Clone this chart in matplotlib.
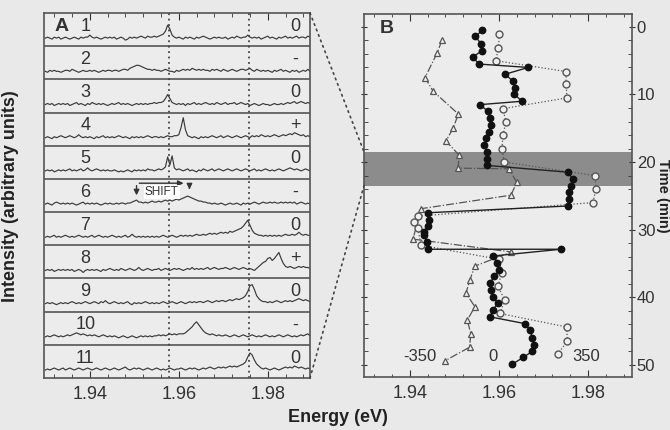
import numpy as np
import matplotlib.pyplot as plt
from matplotlib.patches import ConnectionPatch
from matplotlib.ticker import MultipleLocator

plt.rcParams['font.family'] = ['Liberation Sans', 'DejaVu Sans']

# ---- panel A: spectra, sampled every 0.5 meV from 1.930 eV (pixel heights above baseline)
e_start = 1.930
e_step = 0.0005

spec1 = [0, 1, 0, -1, 1, 0, 1, -1, 0, 1, 0, -1, 0, 1, 0, -1, 1, 0, 1, 1,
         3, 1, 0, 1, 0, -1, 0, 1, 0, 1, 0, 1, -1, 0, 1, 0, -2, -1, 1, 0,
         1, 0, 1, 2, 1, 0, 2, 1, 1, 2, 1, 2, 3, 4, 7, 13, 9, 3, 1, 0,
         1, 0, -1, 1, 0, 1, 0, -1, 1, 0, 1, 2, 1, 0, -1, 0, 1, 0, 1, 0,
         0, 1, -1, 0, 1, 0, 2, 1, 0, 1, 1, 3, 1, 0, 1, 0, 1, -1, 0, 1,
         2, 0, 1, 0, -1, 1, 0, 1, 2, 0, 1, 0, 1, 2, 0, 1, 1, 0, 2, 1]
spec2 = [0, -1, 1, 0, 1, 0, 0, -1, 0, 1, 1, 0, 2, 1, 0, -1, 0, 1, 0, 0,
         1, 0, 1, 0, -1, 0, 1, 0, 1, 1, 0, 1, 1, 0, 1, 2, 2, 1, 3, 4,
         5, 6, 6, 5, 4, 3, 2, 2, 1, 2, 1, 1, 0, 1, 2, 1, 0, 0, -1, 1,
         0, 1, 2, 1, 2, 1, 3, 2, 1, 2, 1, 2, 1, 1, 0, 2, 1, 2, 1, 0,
         2, 1, 0, 1, 2, 1, 0, 1, 2, 2, 1, 2, 3, 1, 0, 2, 1, 0, 1, 0,
         1, 0, -1, 1, 0, 1, 2, 0, 1, 0, -1, 1, 0, 1, -1, 0, 1, 0, 2, 0]
spec3 = [0, 1, 0, 1, -1, 0, 1, 0, 1, 0, 1, -1, 0, 1, 2, 0, 1, 0, -1, 1,
         0, 2, 1, 0, 1, 0, 1, 0, -1, 0, 1, 0, 1, 2, 0, 1, 0, 1, 0, -1,
         0, 1, 0, 1, 0, 1, 0, 1, 1, 2, 1, 2, 2, 3, 6, 10, 6, 2, 1, 0,
         1, 0, 1, -1, 1, 0, 1, 2, 0, 1, 0, 1, 2, 1, 0, 1, 0, 2, 1, 0,
         1, 2, 0, 1, 1, 2, 0, 1, 2, 1, 0, 1, -1, 0, 1, 0, -1, 0, 1, 0,
         0, -1, 0, 1, 0, 0, 1, 0, 1, 2, 1, 2, 3, 1, 2, 3, 2, 1, 2, 1]
spec4 = [0, 1, 0, -1, 1, 0, 1, 2, 1, 0, 1, 2, 1, 0, 1, 3, 1, 0, 1, 0,
         1, 0, -1, 1, 0, 1, 2, 0, 1, 0, 1, 0, 1, 2, 1, 0, 1, 0, -1, 1,
         0, 1, 0, 1, 0, 1, 2, 1, 0, 1, 1, 0, 1, 0, 1, 2, 1, 1, 2, 2,
         3, 10, 20, 8, 2, 1, 0, 1, 0, -1, 1, 0, 1, 0, 1, 2, 1, 0, 1, 2,
         0, 1, 2, 1, 0, 1, 2, 1, 0, 1, 2, 1, 0, 2, 1, 2, 1, 3, 2, 1,
         2, 1, 2, 3, 2, 1, 2, 3, 2, 3, 4, 3, 5, 4, 3, 2, 3, 1, 2, 1]
spec5 = [0, 1, 0, 1, -1, 0, 1, 0, 1, 0, 1, 2, 0, 1, 0, 1, 2, 0, 1, 3,
         1, 0, 1, 2, 1, 0, 1, 0, 1, 0, 0, 1, 0, -1, 0, -1, 0, 1, 0, -1,
         1, 0, 1, 0, 1, 0, 2, 1, 1, 0, 1, 2, 1, 2, 4, 14, 6, 15, 3, 1,
         2, 1, 0, 1, 2, 0, 1, 0, -1, 1, 0, 2, 1, 0, 1, 2, 0, 1, 2, 1,
         0, 1, 2, 1, 0, 1, 2, 1, 0, 1, 2, 1, 0, 1, 2, 0, 1, 0, 1, 2,
         1, 0, 1, 0, 1, 2, 1, 0, 1, 2, 3, 2, 1, 2, 1, 0, 1, 2, 1, 0]
spec6 = [0, 1, 0, -1, 1, 2, 1, 0, 1, 0, 1, 0, 1, 0, -1, 0, 1, 2, 0, 1,
         0, 1, 0, 1, 0, -1, 0, 1, 0, 1, 0, 0, 1, 0, 1, 1, 0, 1, 1, 2,
         3, 4, 2, 2, 1, 2, 1, 2, 3, 2, 2, 3, 2, 3, 4, 3, 4, 3, 4, 5,
         4, 5, 6, 7, 8, 7, 6, 5, 4, 3, 3, 2, 2, 1, 1, 0, 1, 0, 0, 1,
         0, -1, 0, 1, 0, 0, 1, 0, -1, 1, 0, 1, 0, 1, 2, 1, 0, 1, 2, 1,
         1, 2, 1, 2, 1, 1, 2, 1, 2, 1, 2, 1, 2, 0, 1, 2, 1, 0, 1, 0]
spec7 = [0, 1, 0, 1, 2, 0, 1, 0, 1, 2, 1, 0, 1, 0, 1, 2, 1, 0, 1, 0,
         1, 2, 0, 1, 2, 1, 0, 1, 0, 1, 2, 1, 0, 1, 0, 1, 2, 0, 1, 3,
         1, 0, 1, 0, 1, 0, 1, 0, 1, 0, 1, 0, 1, 2, 1, 0, 1, 2, 1, 0,
         1, 2, 1, 2, 1, 2, 1, 2, 3, 2, 2, 3, 2, 3, 4, 3, 4, 3, 4, 5,
         4, 5, 4, 6, 5, 6, 7, 8, 9, 11, 14, 17, 12, 7, 4, 3, 2, 2, 1, 2,
         1, 2, 1, 2, 1, 2, 1, 2, 3, 2, 2, 3, 2, 3, 5, 3, 2, 3, 2, 2]
spec8 = [0, 1, 0, 1, -1, 0, 1, 0, 1, 0, 1, 0, 1, -1, 0, 1, 0, -2, 0, 1,
         0, 1, 0, 1, 0, -1, 1, 0, 1, 2, 1, 0, 1, 0, 2, 1, 0, 1, 2, 1,
         0, 1, 3, 1, 0, 1, 2, 1, 0, 1, 1, 2, 0, 1, 2, 1, 0, 1, 2, 1,
         2, 1, 0, 1, 2, 1, 3, 1, 2, 1, 2, 1, 2, 3, 1, 2, 3, 2, 1, 2,
         2, 3, 2, 1, 2, 3, 2, 1, 2, 3, 2, 1, 2, 1, 0, 2, 4, 6, 8, 9,
         12, 13, 10, 12, 15, 18, 12, 7, 4, 3, 4, 3, 2, 3, 4, 3, 4, 3, 3, 2]
spec9 = [0, 1, 0, 1, 0, -1, 0, 1, 0, 1, 0, 1, 2, 1, 0, 1, 0, 1, 2, 1,
         0, 1, 2, 1, 0, 2, 1, 3, 1, 0, 1, 2, 1, 0, 1, 0, 1, 2, 0, -1,
         1, 0, 1, 0, 1, 2, 1, 0, 1, 0, 1, 0, 1, 2, 1, 0, 1, 2, 1, 0,
         1, 2, 1, 0, 1, 2, 1, 2, 1, 2, 2, 1, 2, 3, 2, 1, 2, 3, 2, 3,
         3, 2, 3, 4, 3, 4, 5, 4, 5, 6, 8, 12, 18, 19, 14, 8, 5, 3, 2, 2,
         1, 2, 1, 2, 3, 2, 1, 2, 3, 2, 3, 2, 3, 4, 5, 4, 3, 4, 3, 2]
spec10 = [0, 1, 0, 1, 2, 1, 0, 1, 0, 1, 2, 1, 2, 3, 4, 3, 2, 3, 2, 1,
          2, 1, 2, 1, 0, 1, 2, 1, 0, 1, 0, 1, 0, -1, 0, 1, 0, -1, 0, 1,
          0, -1, 0, 1, 0, 1, 0, 1, 0, 1, 1, 2, 1, 2, 1, 2, 3, 2, 3, 2,
          3, 3, 3, 4, 6, 8, 10, 13, 15, 12, 9, 6, 4, 3, 2, 3, 2, 1, 2, 1,
          1, 2, 1, 0, 1, 2, 1, 0, 1, 2, 1, 0, 1, 2, 1, 0, 1, 0, 1, 2,
          1, 0, 1, 0, 1, 2, 1, 0, 1, 2, 1, 0, 1, 0, 1, 2, 1, 2, 3, 1]
spec11 = [0, 1, 0, 1, 2, 1, 0, 1, 2, 0, 1, 2, 1, 0, 1, 2, 1, 0, 1, 2,
          1, 0, 1, 2, 1, 0, 1, 2, 1, 0, 1, 2, 1, 0, 1, 2, 3, 1, 0, 1,
          2, 1, 2, 1, 0, 1, 2, 1, 0, 1, 2, 1, 0, 1, 0, 1, 2, 1, 0, 1,
          1, 2, 1, 0, 1, 2, 1, 2, 1, 0, 1, 2, 1, 2, 3, 2, 1, 2, 3, 2,
          3, 2, 3, 4, 3, 4, 3, 4, 5, 6, 8, 13, 17, 15, 10, 6, 4, 2, 1, 2,
          1, 0, 1, 2, 1, 0, 1, 2, 3, 2, 3, 2, 4, 3, 2, 3, 2, 1, 2, 1]

spectra = [spec1, spec2, spec3, spec4, spec5, spec6, spec7, spec8, spec9, spec10, spec11]
spec_numbers = ['1', '2', '3', '4', '5', '6', '7', '8', '9', '10', '11']
spec_signs = ['0', '-', '0', '+', '0', '-', '0', '+', '0', '-', '0']
ref_lines = [1.9578, 1.9757]

# ---- panel B: peak energy vs time
filled_t = [0.5, 1.4, 2.5, 3.5, 4.5, 5.5, 6.0, 7.0, 8.0, 9.0, 10.0, 11.0, 11.5, 12.5,
            13.5, 14.5, 15.5, 16.5, 17.5, 18.5, 19.5, 20.5, 21.5, 22.5, 23.5, 24.5,
            25.5, 26.5, 27.5, 28.5, 29.5, 30.3, 30.8, 31.9, 32.9, 32.9, 33.9, 34.9,
            35.9, 36.9, 37.9, 38.9, 39.9, 40.9, 41.9, 42.9, 43.9, 44.9, 46.0, 47.0,
            48.0, 48.9, 49.9]
filled_e = [1.9563, 1.9547, 1.9560, 1.9562, 1.9541, 1.9556, 1.9666, 1.9614, 1.9631,
            1.9636, 1.9635, 1.9652, 1.9558, 1.9575, 1.9580, 1.9582, 1.9578, 1.9572,
            1.9566, 1.9574, 1.9573, 1.9574, 1.9755, 1.9766, 1.9761, 1.9757, 1.9757,
            1.9755, 1.9440, 1.9443, 1.9441, 1.9431, 1.9432, 1.9438, 1.9440, 1.9739,
            1.9587, 1.9595, 1.9601, 1.9590, 1.9580, 1.9582, 1.9587, 1.9597, 1.9587,
            1.9580, 1.9658, 1.9670, 1.9675, 1.9679, 1.9675, 1.9655, 1.9630]

open_t = [1.1, 3.1, 5.0, 6.6, 8.5, 10.5, 12.1, 14.1, 16.0, 18.0, 20.0, 22.0, 24.0,
          26.0, 28.0, 28.9, 29.8, 32.3, 34.4, 36.4, 38.4, 40.4, 42.4, 44.4, 46.5, 48.4]
open_e = [1.9601, 1.9599, 1.9593, 1.9751, 1.9751, 1.9753, 1.9609, 1.9616, 1.9609,
          1.9607, 1.9612, 1.9816, 1.9818, 1.9811, 1.9418, 1.9409, 1.9418, 1.9425,
          1.9601, 1.9606, 1.9598, 1.9613, 1.9602, 1.9752, 1.9754, 1.9732]

tri_t = [2.0, 3.9, 7.5, 9.5, 12.9, 15.0, 16.9, 19.0, 20.9, 21.0, 23.0, 24.9, 26.9,
         31.4, 33.3, 35.4, 37.4, 39.4, 41.4, 43.4, 45.4, 47.4, 49.4]
tri_e = [1.9472, 1.9461, 1.9434, 1.9452, 1.9509, 1.9497, 1.9481, 1.9511, 1.9508,
         1.9623, 1.9640, 1.9627, 1.9425, 1.9407, 1.9628, 1.9546, 1.9535, 1.9526,
         1.9546, 1.9529, 1.9537, 1.9534, 1.9479]

band = (18.5, 23.5)
pol_labels = ['-350', '0', '350']
pol_label_e = [1.9422, 1.9587, 1.9797]

bg = '#e9e9e9'
ink = '#333333'

fig = plt.figure(figsize=(6.7, 4.3), dpi=100, facecolor=bg)
axA = fig.add_axes([0.0657, 0.1209, 0.397, 0.849], facecolor='#ececec')
axB = fig.add_axes([0.5433, 0.1233, 0.400, 0.844], facecolor='#ececec')

# panel A
n = len(spectra[0])
e_grid = e_start + e_step * np.arange(n)
for k, vals in enumerate(spectra):
    off = len(spectra) - 1 - k
    axA.plot(e_grid, off + (8 + np.array(vals)) / 33.2, color='#3a3a3a', lw=0.85)
    axA.text(1.9390, off + 0.6, spec_numbers[k], fontsize=13, ha='center', va='center', color=ink)
    axA.text(1.9862, off + 0.6, spec_signs[k], fontsize=13, ha='center', va='center', color=ink)
    if k > 0:
        axA.axhline(off + 1, color='#555555', lw=1.2)
for x in ref_lines:
    axA.axvline(x, color='#444444', lw=1.3, ls=(0, (1, 2)))
axA.text(1.9336, 10.6, 'A', fontsize=14, fontweight='bold', ha='center', va='center', color=ink)

# SHIFT annotation on spectrum 6
axA.annotate('', xy=(1.9617, 5.87), xytext=(1.9505, 5.87),
             arrowprops=dict(arrowstyle='-|>', color=ink, lw=1, mutation_scale=8))
axA.annotate('', xy=(1.9505, 5.42), xytext=(1.9505, 5.88),
             arrowprops=dict(arrowstyle='-|>', color=ink, lw=1, mutation_scale=8))
axA.annotate('', xy=(1.9624, 5.6), xytext=(1.9624, 5.82),
             arrowprops=dict(arrowstyle='-|>', color=ink, lw=1, mutation_scale=8))
axA.text(1.9562, 5.6, 'SHIFT', fontsize=8.5, ha='center', va='center', color=ink,
         bbox=dict(facecolor='white', edgecolor='none', pad=0.6))

axA.set_xlim(1.9297, 1.9895)
axA.set_ylim(0, len(spectra))
axA.set_yticks([])
axA.set_xticks([1.94, 1.96, 1.98])
axA.xaxis.set_minor_locator(MultipleLocator(0.004))
axA.tick_params(axis='x', which='both', direction='in', top=True, labelsize=13,
                colors=ink, pad=6)
axA.tick_params(axis='x', which='minor', length=3)

# panel B
axB.axhspan(band[0], band[1], color='#8c8c8c', lw=0, zorder=1)
axB.plot(tri_e, tri_t, color='#555555', lw=0.9, ls='-.', marker='^', ms=5,
         mfc='#efefef', mec='#555555', mew=0.9, zorder=3)
axB.plot(open_e, open_t, color='#555555', lw=0.9, ls=':', marker='o', ms=5,
         mfc='#efefef', mec='#555555', mew=1.0, zorder=3)
axB.plot(filled_e, filled_t, color='#222222', lw=1.0, ls='-', marker='o', ms=4.6,
         mfc='#111111', mec='#111111', zorder=4)
for lab, x in zip(pol_labels, pol_label_e):
    axB.text(x, 48.7, lab, fontsize=12, ha='center', va='center', color=ink)
axB.text(1.9348, 0.3, 'B', fontsize=14, fontweight='bold', ha='center', va='center', color=ink)

axB.set_xlim(1.9297, 1.9899)
axB.set_ylim(51.8, -1.9)
axB.set_xticks([1.94, 1.96, 1.98])
axB.xaxis.set_minor_locator(MultipleLocator(0.004))
axB.set_yticks([0, 10, 20, 30, 40, 50])
axB.yaxis.set_minor_locator(MultipleLocator(2))
axB.tick_params(axis='x', which='both', direction='in', top=True, labelsize=13,
                colors=ink, pad=6)
axB.tick_params(axis='y', which='both', left=True, right=True, labelleft=False,
                labelright=True, labelsize=12, colors=ink)
axB.tick_params(axis='y', which='major', direction='inout', pad=1)
axB.tick_params(axis='y', which='minor', direction='in', length=3)
for ax in (axA, axB):
    ax.tick_params(which='major', length=5)
    for s in ax.spines.values():
        s.set_color('#555555')
        s.set_linewidth(1.2)
axB.tick_params(axis='y', which='major', length=5)

# dotted connectors between the panels
for ya, yb in ((1, band[0]), (0, band[1])):
    con = ConnectionPatch(xyA=(1, ya), coordsA=axA.transAxes,
                          xyB=(1.9297, yb), coordsB=axB.transData,
                          color='#444444', lw=1.2, ls=(0, (1, 2.5)))
    fig.add_artist(con)

fig.text(0.015, 0.545, 'Intensity (arbitrary units)', rotation=90, fontsize=13,
         fontweight='bold', ha='center', va='center', color='#222222')
fig.text(0.505, 0.028, 'Energy (eV)', fontsize=13, fontweight='bold',
         ha='center', va='center', color='#222222')
fig.text(0.9895, 0.545, 'Time (min)', rotation=270, fontsize=10.5, fontweight='bold',
         ha='center', va='center', color='#222222')

fig.savefig('out.png', dpi=100, facecolor=fig.get_facecolor())
